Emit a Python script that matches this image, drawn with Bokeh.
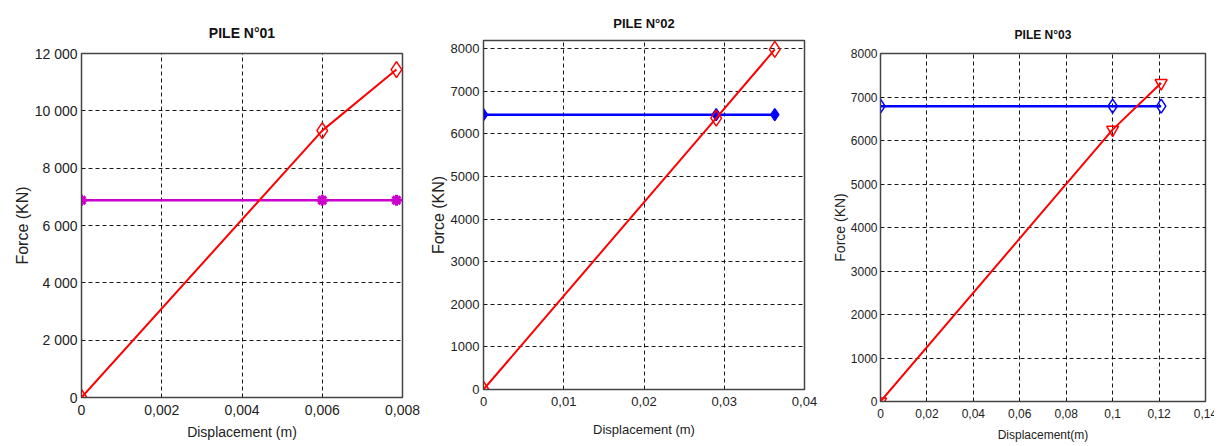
from bokeh.plotting import figure
from bokeh.models import FixedTicker, CustomJSTickFormatter, Range1d
from bokeh.embed import file_html
from bokeh.resources import INLINE
from bokeh.core.templates import get_env

# ---- data ----
titles = ["PILE N°01", "PILE N°02", "PILE N°03"]
x_labels = ["Displacement (m)", "Displacement (m)", "Displacement(m)"]
y_label = "Force (KN)"

p1_disp = [0.0, 0.006, 0.00785]
p1_force = [0, 9310, 11440]
p1_limit = [6880, 6880, 6880]

p2_disp = [0.0, 0.0290, 0.0363]
p2_force = [0, 6370, 7980]
p2_limit = [6450, 6450, 6450]

p3_disp = [0.0, 0.100, 0.1209]
p3_force = [0, 6250, 7320]
p3_limit = [6790, 6790, 6790]

p1_xticks = [0, 0.002, 0.004, 0.006, 0.008]
p1_yticks = [0, 2000, 4000, 6000, 8000, 10000, 12000]
p2_xticks = [0, 0.01, 0.02, 0.03, 0.04]
p2_yticks = [0, 1000, 2000, 3000, 4000, 5000, 6000, 7000, 8000]
p3_xticks = [0, 0.02, 0.04, 0.06, 0.08, 0.1, 0.12, 0.14]
p3_yticks = [0, 1000, 2000, 3000, 4000, 5000, 6000, 7000, 8000]

FONT = "Liberation Sans"

x_fmt = CustomJSTickFormatter(code="""
return Number(tick.toPrecision(6)).toString().replace('.', ',');
""")
y_fmt_space = CustomJSTickFormatter(code="""
var s = Math.round(tick).toString();
if (s.length > 3) { s = s.slice(0, s.length-3) + ' ' + s.slice(s.length-3); }
return s;
""")
y_fmt_plain = CustomJSTickFormatter(code="return Math.round(tick).toString();")


def make(title, xlab, xr, yr, xt, yt, yfmt, w, h, bl, br, bt, bb,
         fs_title, fs_tick, fs_xlab, fs_ylab, title_so,
         ytick_so, ylab_so, xtick_so, xlab_so):
    p = figure(width=w, height=h, min_border_left=bl, min_border_right=br,
               min_border_top=bt, min_border_bottom=bb, output_backend="svg",
               toolbar_location=None, x_range=Range1d(*xr), y_range=Range1d(*yr),
               title=title)
    p.title.align = "center"
    p.title.vertical_align = "top"
    p.title.text_font = FONT
    p.title.text_font_size = f"{fs_title}px"
    p.title.text_font_style = "bold"
    p.title.text_color = "#111111"
    p.title.standoff = title_so
    p.title.offset = 0
    p.outline_line_color = "#444444"
    p.outline_line_width = 1.5
    p.xaxis.ticker = FixedTicker(ticks=xt)
    p.yaxis.ticker = FixedTicker(ticks=yt)
    p.xaxis.formatter = x_fmt
    p.yaxis.formatter = yfmt
    for ax in (p.xaxis, p.yaxis):
        ax.major_tick_in = 0
        ax.major_tick_out = 0
        ax.minor_tick_in = 0
        ax.minor_tick_out = 0
        ax.axis_line_color = "#444444"
        ax.major_label_text_font = FONT
        ax.major_label_text_font_size = f"{fs_tick}px"
        ax.major_label_text_color = "#222222"
    p.yaxis.major_label_standoff = ytick_so
    p.xaxis.major_label_standoff = xtick_so
    p.xaxis.axis_label = xlab
    p.xaxis.axis_label_text_font = FONT
    p.xaxis.axis_label_text_font_size = f"{fs_xlab}px"
    p.xaxis.axis_label_text_font_style = "normal"
    p.xaxis.axis_label_text_color = "#222222"
    p.xaxis.axis_label_standoff = xlab_so
    p.yaxis.axis_label = y_label
    p.yaxis.axis_label_text_font = FONT
    p.yaxis.axis_label_text_font_size = f"{fs_ylab}px"
    p.yaxis.axis_label_text_font_style = "normal"
    p.yaxis.axis_label_text_color = "#222222"
    p.yaxis.axis_label_standoff = ylab_so
    for g in (p.xgrid, p.ygrid):
        g.grid_line_color = "black"
        g.grid_line_dash = "4 3"
        g.grid_line_width = 1
        g.grid_line_alpha = 0.9
    return p


p1 = make(titles[0], x_labels[0], (0, 0.008), (0, 12000), p1_xticks, p1_yticks, y_fmt_space,
          415, 438, 73, 21, 45, 49,
          14, 14, 14, 16, 22, 4, 1, 7, 6)
p1.line(p1_disp, p1_limit, line_color="#cc00cc", line_width=2.5)
p1.scatter(p1_disp, p1_limit, marker="asterisk", size=11, line_color="#cc00cc", line_width=3)
p1.line(p1_disp, p1_force, line_color="red", line_width=2)
p1.scatter(p1_disp, p1_force, marker="diamond", size=16, line_color="red", fill_alpha=0,
           line_width=1.5)

p2 = make(titles[1], x_labels[1], (0, 0.04), (0, 8190), p2_xticks, p2_yticks, y_fmt_plain,
          405, 438, 60, 24, 31, 57,
          13, 13, 13, 16, 15, 4, 1, 7, 13)
p2.line(p2_disp, p2_limit, line_color="blue", line_width=2.5)
p2.scatter(p2_disp, p2_limit, marker="diamond", size=12, line_color="blue", fill_color="blue",
           line_width=1.5)
p2.line(p2_disp, p2_force, line_color="red", line_width=2)
p2.scatter(p2_disp, p2_force, marker="diamond", size=16, line_color="red", fill_alpha=0,
           line_width=1.5)

p3 = make(titles[2], x_labels[2], (0, 0.14), (0, 8000), p3_xticks, p3_yticks, y_fmt_plain,
          391, 438, 52, 14, 45, 45,
          12, 12, 12, 14, 20, 3, 0, 7, 7)
p3.line(p3_disp, p3_limit, line_color="blue", line_width=2.5)
p3.scatter(p3_disp, p3_limit, marker="diamond", size=14, line_color="blue", fill_alpha=0,
           line_width=1.5)
p3.line(p3_disp, p3_force, line_color="red", line_width=2)
p3.scatter(p3_disp, p3_force, marker="inverted_triangle", size=12, line_color="red", fill_alpha=0,
           line_width=1.5)

# independent roots side by side (no frame alignment between panels)
TEMPLATE = get_env().from_string("""<!DOCTYPE html>
<html lang="en">
<head>
<meta charset="utf-8">
<title>{{ title }}</title>
<style>
html { margin: 0; padding: 0; overflow: hidden; }
body { margin: 8px 8px 0 8px; padding: 0; overflow: hidden; }
.panels { display: flex; flex-direction: row; align-items: flex-start; }
.panels > div { flex: none; }
</style>
{{ bokeh_css if bokeh_css }}
{{ bokeh_js if bokeh_js }}
</head>
<body>
<div class="panels">
{% for doc in docs %}{% for root in doc.roots %}<div><div id="{{ root.elementid }}" style="display: contents;"></div></div>
{% endfor %}{% endfor %}
</div>
{{ plot_script | indent(4) }}
</body>
</html>
""")

open("out.html", "w").write(file_html([p1, p2, p3], INLINE, title="Piles", template=TEMPLATE))
